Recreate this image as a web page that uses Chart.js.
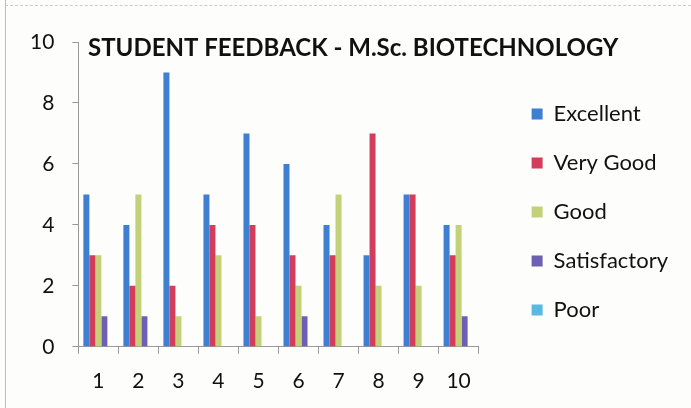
<!DOCTYPE html>
<html>
<head>
<meta charset="utf-8">
<script src="https://cdn.jsdelivr.net/npm/chart.js@4.4.1/dist/chart.umd.min.js"></script>
<style>
  html, body { margin: 0; padding: 0; background: #fdfdfc; }
  #wrap { position: relative; width: 691px; height: 408px; }
  #wrap:before { content: ''; position: absolute; left: 5px; top: 0; bottom: 0; border-left: 1px solid #bbb; }
  #wrap:after { content: ''; position: absolute; left: 5px; right: 0; top: 5px; border-top: 1px dashed #ccc; }
</style>
</head>
<body>
<div id="wrap"><canvas id="myChart" width="691" height="408"></canvas></div>
<script>
var categories = ['1', '2', '3', '4', '5', '6', '7', '8', '9', '10'];
var excellent    = [5, 4, 9, 5, 7, 6, 4, 3, 5, 4];
var veryGood     = [3, 2, 2, 4, 4, 3, 3, 7, 5, 3];
var good         = [3, 5, 1, 3, 1, 2, 5, 2, 2, 4];
var satisfactory = [1, 1, 0, 0, 0, 1, 0, 0, 0, 1];
var poor         = [0, 0, 0, 0, 0, 0, 0, 0, 0, 0];
var yTicks = [0, 2, 4, 6, 8, 10];

var fontFamily = 'Lato, "Liberation Sans", sans-serif';

// title sits inside the plot area, like the original
var titlePlugin = {
    id: 'insideTitle',
    afterDraw: function(chart) {
        var ctx = chart.ctx;
        ctx.save();
        ctx.font = 'bold 24px ' + fontFamily;
        ctx.fillStyle = '#111';
        ctx.textBaseline = 'middle';
        ctx.fillText('STUDENT FEEDBACK - M.Sc. BIOTECHNOLOGY', 88, 48);
        ctx.restore();
    }
};

var ctx = document.getElementById('myChart').getContext('2d');
var chart = new Chart(ctx, {
    type: 'bar',
    data: {
        labels: categories,
        datasets: [
            { label: 'Excellent', data: excellent, backgroundColor: '#3f7fd2' },
            { label: 'Very Good', data: veryGood, backgroundColor: '#d23d5c' },
            { label: 'Good', data: good, backgroundColor: '#c3d178' },
            { label: 'Satisfactory', data: satisfactory, backgroundColor: '#6f5fb3' },
            { label: 'Poor', data: poor, backgroundColor: '#5bb8e0' }
        ]
    },
    options: {
        responsive: false,
        animation: false,
        layout: { padding: { left: 12, top: 16, bottom: 0, right: 13 } },
        datasets: { bar: { categoryPercentage: 0.75, barPercentage: 1 } },
        plugins: {
            legend: {
                position: 'right',
                align: 'center',
                maxWidth: 220,
                labels: {
                    boxWidth: 11,
                    boxHeight: 11,
                    padding: 27,
                    color: '#111',
                    font: { family: fontFamily, size: 22 }
                }
            },
            tooltip: { enabled: false }
        },
        scales: {
            x: {
                grid: { drawOnChartArea: false, tickLength: 7, color: '#999' },
                border: { color: '#999' },
                ticks: { color: '#111', font: { family: fontFamily, size: 21 }, padding: 15 },
                afterFit: function(scale) { scale.height -= 1; }
            },
            y: {
                min: 0,
                max: 10,
                afterBuildTicks: function(scale) {
                    scale.ticks = yTicks.map(function(v) { return { value: v }; });
                },
                grid: { drawOnChartArea: false, tickLength: 6, color: '#999' },
                border: { color: '#999' },
                ticks: { color: '#111', font: { family: fontFamily, size: 21 }, padding: 18 }
            },
            gapTop: {
                axis: 'x',
                position: 'top',
                display: true,
                grid: { display: false },
                border: { display: false },
                ticks: { display: false },
                afterFit: function(scale) { scale.height = 26; }
            },
            gap: {
                axis: 'y',
                position: 'right',
                display: true,
                grid: { display: false },
                border: { display: false },
                ticks: { display: false },
                afterFit: function(scale) { scale.width = 26; }
            }
        }
    },
    plugins: [titlePlugin]
});
</script>
</body>
</html>
